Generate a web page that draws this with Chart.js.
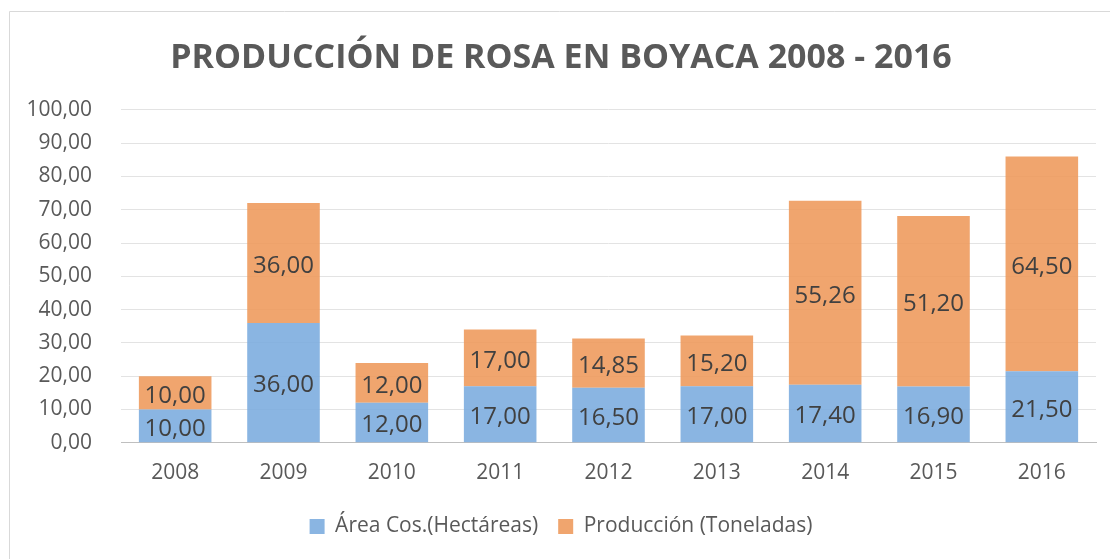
<!DOCTYPE html>
<html>
<head>
<meta charset="utf-8">
<script src="https://cdn.jsdelivr.net/npm/chart.js@4"></script>
<style>
  body { margin: 0; background: #fff; }
  #wrap { width: 1110px; height: 559px; }
</style>
</head>
<body>
<div id="wrap"><canvas id="myChart"></canvas></div>
<script>
// data
var years = ["2008", "2009", "2010", "2011", "2012", "2013", "2014", "2015", "2016"];
var area = [10.00, 36.00, 12.00, 17.00, 16.50, 17.00, 17.40, 16.90, 21.50];
var produccion = [10.00, 36.00, 12.00, 17.00, 14.85, 15.20, 55.26, 51.20, 64.50];

function fmt(v) {
    return v.toFixed(2).replace(".", ",");
}

// frame around the chart, like the spreadsheet chart box
const framePlugin = {
    id: "frame",
    beforeDraw(chart) {
        const c = chart.ctx;
        c.save();
        c.strokeStyle = "#d9d9d9";
        c.lineWidth = 1;
        c.beginPath();
        c.moveTo(9.5, 559);
        c.lineTo(9.5, 11.5);
        c.lineTo(1110, 11.5);
        c.stroke();
        c.restore();
    }
};

// value labels in the middle of every segment
const labelPlugin = {
    id: "segLabels",
    afterDatasetsDraw(chart) {
        const c = chart.ctx;
        c.save();
        c.font = "24px 'Open Sans'";
        c.fillStyle = "#404040";
        c.textAlign = "center";
        c.textBaseline = "middle";
        chart.data.datasets.forEach(function(ds, i) {
            chart.getDatasetMeta(i).data.forEach(function(bar, j) {
                const mid = (bar.y + bar.base) / 2;
                c.fillText(fmt(ds.data[j]), bar.x, mid + 3);
            });
        });
        c.restore();
    }
};

function build() {
    const ctx = document.getElementById("myChart").getContext("2d");
    const myChart = new Chart(ctx, {
        type: "bar",
        data: {
            labels: years,
            datasets: [{
                label: "Área Cos.(Hectáreas)",
                data: area,
                backgroundColor: "rgba(122, 171, 222, 0.88)",
                borderWidth: 0,
                categoryPercentage: 0.67,
                barPercentage: 1
            }, {
                label: "Producción (Toneladas)",
                data: produccion,
                backgroundColor: "rgba(238, 153, 90, 0.88)",
                borderWidth: 0,
                categoryPercentage: 0.67,
                barPercentage: 1
            }]
        },
        options: {
            responsive: true,
            maintainAspectRatio: false,
            animation: false,
            layout: { padding: { left: 26, right: 14, top: 20, bottom: 12 } },
            plugins: {
                title: {
                    display: true,
                    text: "PRODUCCIÓN DE ROSA EN BOYACA 2008 - 2016",
                    color: "#595959",
                    font: { family: "Open Sans", size: 34, weight: "bold" },
                    padding: { top: 18, bottom: 31 }
                },
                legend: {
                    position: "bottom",
                    labels: {
                        color: "#595959",
                        font: { family: "Open Sans", size: 21 },
                        boxWidth: 15,
                        boxHeight: 15,
                        padding: 20
                    }
                },
                tooltip: { enabled: false }
            },
            scales: {
                x: {
                    stacked: true,
                    grid: { display: false },
                    border: { color: "#bfbfbf", width: 1 },
                    ticks: { color: "#595959", font: { family: "Open Sans", size: 21 }, padding: 10 }
                },
                y: {
                    stacked: true,
                    min: 0,
                    max: 100,
                    grid: { color: "#e3e3e3", drawTicks: false },
                    border: { display: false },
                    afterFit: function(scale) { scale.width = 95; },
                    ticks: {
                        stepSize: 10,
                        color: "#595959",
                        font: { family: "Open Sans", size: 21 },
                        padding: 29,
                        callback: function(v) { return fmt(v); }
                    }
                }
            }
        },
        plugins: [framePlugin, labelPlugin]
    });
}

// make sure the font is ready before Chart.js measures the labels
Promise.all([
    document.fonts.load("21px 'Open Sans'"),
    document.fonts.load("bold 34px 'Open Sans'")
]).then(build, build);
</script>
</body>
</html>
